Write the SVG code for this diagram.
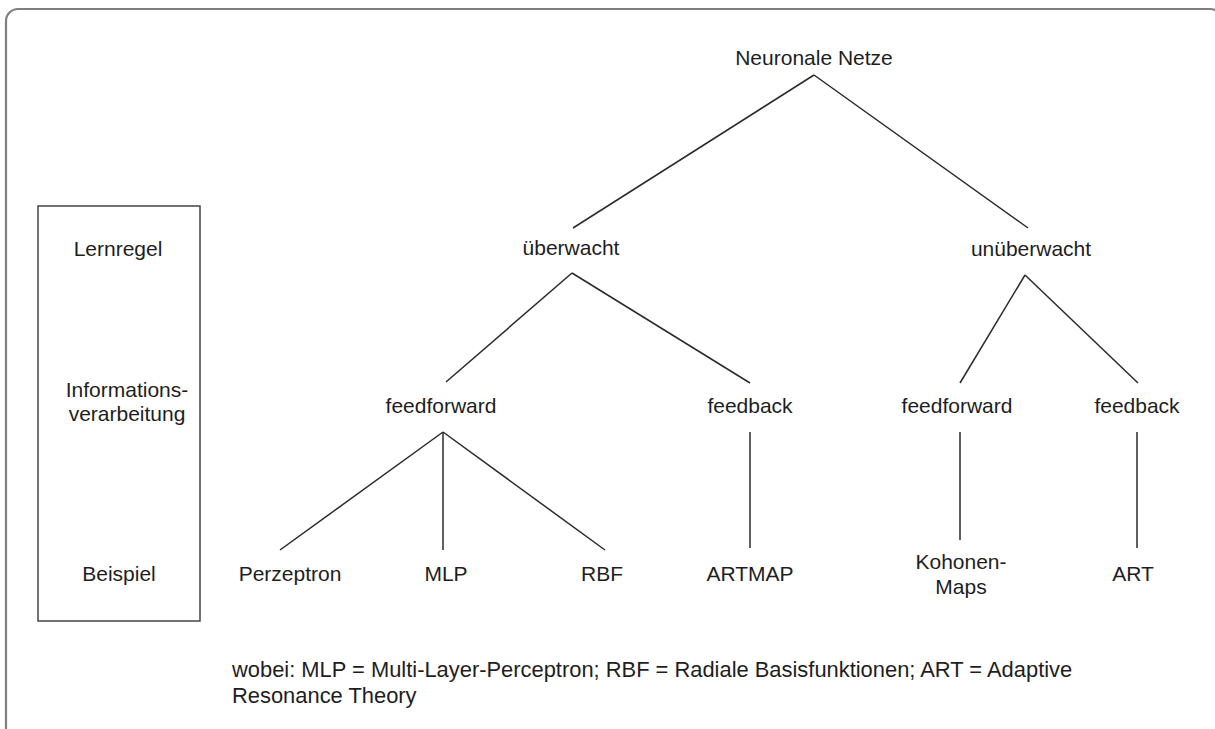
<svg xmlns="http://www.w3.org/2000/svg" width="1215" height="729" viewBox="0 0 1215 729">
  <style>
    text { font-family: "Liberation Sans", Arial, sans-serif; font-size: 21px; fill: #1e1e1e; }
    .c { text-anchor: middle; }
    .note { font-size: 21.9px; }
    .edge { stroke: #2a2a2a; stroke-width: 1.5; fill: none; }
  </style>
  <rect width="1215" height="729" fill="#ffffff"/>
  <!-- outer frame -->
  <rect id="frame" x="6" y="9" width="1216" height="740" rx="12" ry="12" fill="none" stroke="#7f7f7f" stroke-width="2.2"/>

  <!-- legend column -->
  <g id="legend">
    <rect x="38" y="206" width="162" height="415" fill="none" stroke="#444" stroke-width="1.5"/>
    <text class="c" x="118" y="256">Lernregel</text>
    <text class="c" x="127" y="397">Informations-</text>
    <text class="c" x="127" y="421">verarbeitung</text>
    <text class="c" x="119" y="581">Beispiel</text>
  </g>

  <g id="edges">
    <line class="edge" x1="814" y1="75" x2="573" y2="228"/>
    <line class="edge" x1="814" y1="75" x2="1028" y2="228"/>
    <line class="edge" x1="572" y1="273" x2="446" y2="382"/>
    <line class="edge" x1="572" y1="273" x2="750" y2="383"/>
    <line class="edge" x1="1025" y1="275" x2="960" y2="383"/>
    <line class="edge" x1="1025" y1="275" x2="1138" y2="383"/>
    <line class="edge" x1="443" y1="432" x2="280" y2="550"/>
    <line class="edge" x1="443" y1="432" x2="443" y2="550"/>
    <line class="edge" x1="443" y1="432" x2="605" y2="550"/>
    <line class="edge" x1="750" y1="432" x2="750" y2="548"/>
    <line class="edge" x1="960" y1="432" x2="960" y2="540"/>
    <line class="edge" x1="1137" y1="432" x2="1137" y2="548"/>
  </g>

  <g id="root"><text class="c" x="814" y="65">Neuronale Netze</text></g>
  <g id="ueberwacht"><text class="c" x="571" y="255">überwacht</text></g>
  <g id="unueberwacht"><text class="c" x="1031" y="256">unüberwacht</text></g>
  <g id="feedforward-s"><text class="c" x="441" y="413">feedforward</text></g>
  <g id="feedback-s"><text class="c" x="750" y="413">feedback</text></g>
  <g id="feedforward-u"><text class="c" x="957" y="413">feedforward</text></g>
  <g id="feedback-u"><text class="c" x="1137" y="413">feedback</text></g>
  <g id="perzeptron"><text class="c" x="290" y="581">Perzeptron</text></g>
  <g id="mlp"><text class="c" x="446" y="581">MLP</text></g>
  <g id="rbf"><text class="c" x="602" y="581">RBF</text></g>
  <g id="artmap"><text class="c" x="750" y="581">ARTMAP</text></g>
  <g id="kohonen"><text class="c" x="961" y="569">Kohonen-</text><text class="c" x="961" y="594">Maps</text></g>
  <g id="art"><text class="c" x="1133" y="581">ART</text></g>

  <g id="footnote" class="note">
    <text class="note" x="232" y="677">wobei: MLP = Multi-Layer-Perceptron; RBF = Radiale Basisfunktionen; ART = Adaptive</text>
    <text class="note" x="232" y="703">Resonance Theory</text>
  </g>
</svg>
